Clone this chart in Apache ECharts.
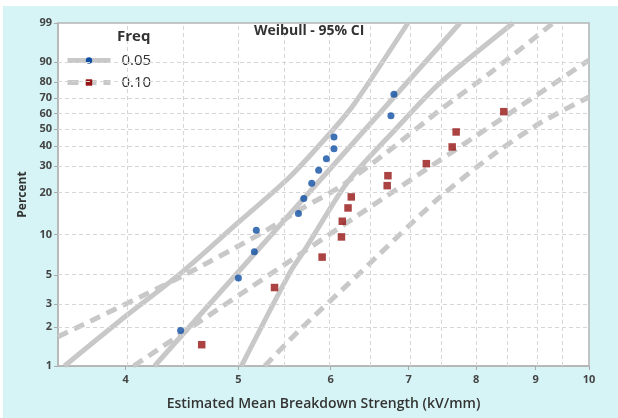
<!DOCTYPE html>
<html><head><meta charset="utf-8">
<script src="https://cdn.jsdelivr.net/npm/echarts@6/dist/echarts.min.js"></script>
<style>
html,body{margin:0;padding:0;background:#fff;}
#bg{position:absolute;left:3px;top:6px;width:615px;height:412px;background:#d6f4f6;}
#chart{position:absolute;left:0;top:0;width:618px;height:418px;}
</style></head><body>
<div id="bg"></div><div id="chart"></div>
<script>
// Axis ticks
const xTicks = [4, 5, 6, 7, 8, 9, 10];
const xGrid = [4, 4.5, 5, 5.5, 6, 6.5, 7, 7.5, 8, 8.5, 9, 9.5];
const yTicks = [1, 2, 3, 5, 10, 20, 30, 40, 50, 60, 70, 80, 90, 99];
const yGrid = [2, 3, 5, 10, 20, 30, 40, 50, 60, 70, 80, 90];
const xRange = [3.5, 10];
const yRange = [1, 99];

// Data points [strength kV/mm, percent]
const pts05 = [[4.46,1.88],[5.00,4.73],[5.16,7.46],[5.18,10.75],[5.63,14.18],[5.69,18.18],[5.78,23.14],[5.86,28.28],[5.95,33.47],[6.04,38.51],[6.04,45.20],[6.76,58.51],[6.80,72.45]];
const pts10 = [[4.65,1.46],[5.37,4.00],[5.90,6.79],[6.13,9.59],[6.14,12.49],[6.21,15.57],[6.25,18.62],[6.71,22.27],[6.72,26.00],[7.25,31.15],[7.63,39.53],[7.69,48.19],[8.45,61.13]];

// Fitted lines and 95% CI bounds [strength, percent]
const fit05 = [[4.236,1],[7.749,99]];
const ciLeft05 = [[3.545,1],[3.966,2.27],[4.466,5.17],[4.993,12.14],[5.534,25.5],[6.027,49.4],[6.295,66.8],[6.991,99]];
const ciRight05 = [[5.030,1],[5.534,5.17],[5.701,7.68],[6.196,23.24],[6.813,49.41],[7.449,79.35],[8.607,99]];
const fit10 = [[4.064,1],[10,90.7]];
const ciLeft10 = [[3.5,1.68],[4.466,4.84],[5.232,10.21],[5.701,15.83],[6.111,21.83],[6.746,37.92],[7.449,62.24],[8.224,84.83],[9.316,99]];
const ciRight10 = [[5.267,1],[5.645,1.90],[6.332,4.99],[7.400,17.74],[8.224,34.35],[9.080,53.80],[10,70.73]];

const tx = x => Math.log(x);
const ty = p => Math.log(-Math.log(1 - p / 100));
const tr = arr => arr.map(d => [tx(d[0]), ty(d[1])]);

const FONT = "'Open Sans', 'DejaVu Sans', sans-serif";
const BLUE = '#0f4fa3', RED = '#961414', GRAY = '#c8c8c8';

const chart = echarts.init(document.getElementById('chart'), null, {renderer: 'canvas'});
const solid = {color: GRAY, width: 5};
const dashed = {color: GRAY, width: 5, type: [11, 7]};
function lineSeries(name, data, style, extra) {
  return Object.assign({
    type: 'line', name: name, data: tr(data), showSymbol: false, symbol: 'none',
    lineStyle: style, smooth: 0.25, z: 2, silent: true
  }, extra || {});
}
const gridLineData = xGrid.map(v => ({xAxis: tx(v)})).concat(yGrid.map(v => ({yAxis: ty(v)})));
chart.setOption({
  animation: false,
  title: [
    {text: 'Weibull - 95% CI', left: 254, top: 24, padding: 0, textStyle: {fontFamily: FONT, fontSize: 14, fontWeight: 'bold', color: '#333'}},
    {text: 'Freq', left: 117, top: 29, padding: 0, textStyle: {fontFamily: FONT, fontSize: 15, fontWeight: 'bold', color: '#333'}}
  ],
  legend: {
    data: ['0.05', '0.10'], orient: 'vertical', left: 65, top: 53, padding: 0,
    itemWidth: 43, itemHeight: 8, itemGap: 7,
    lineStyle: {width: 5},
    textStyle: {fontFamily: FONT, fontSize: 15, color: '#333', padding: [0, 0, 0, 6]}
  },
  grid: {left: 58, right: 29, top: 23, bottom: 52, show: true, backgroundColor: '#fff', borderColor: '#b4b4b4', borderWidth: 1.5,
    containLabel: false, outerBoundsMode: 'none'},
  xAxis: {
    type: 'value', min: tx(xRange[0]), max: tx(xRange[1]),
    name: 'Estimated Mean Breakdown Strength (kV/mm)', nameLocation: 'middle', nameGap: 31,
    nameTextStyle: {fontFamily: FONT, fontSize: 14, fontWeight: 600, color: '#333'},
    axisLine: {show: true, onZero: false, lineStyle: {color: '#b4b4b4', width: 1.5}},
    axisTick: {show: true, length: 4, lineStyle: {color: '#aaa'}, customValues: xTicks.map(tx)},
    axisLabel: {customValues: xTicks.map(tx), margin: 8, fontFamily: FONT, fontSize: 11, fontWeight: 'bold', color: '#444',
      formatter: v => String(Math.round(Math.exp(v) * 10) / 10)},
    splitLine: {show: false}
  },
  yAxis: {
    type: 'value', min: ty(yRange[0]), max: ty(yRange[1]),
    name: 'Percent', nameLocation: 'middle', nameGap: 25,
    nameTextStyle: {fontFamily: FONT, fontSize: 12, fontWeight: 'bold', color: '#333'},
    axisLine: {show: true, onZero: false, lineStyle: {color: '#b4b4b4', width: 1.5}},
    axisTick: {show: true, length: 4, lineStyle: {color: '#aaa'}, customValues: yTicks.map(ty)},
    axisLabel: {customValues: yTicks.map(ty), margin: 6, fontFamily: FONT, fontSize: 11, fontWeight: 'bold', color: '#444',
      formatter: v => String(Math.round((1 - Math.exp(-Math.exp(v))) * 100))},
    splitLine: {show: false}
  },
  series: [
    {type: 'line', name: 'grid', data: [], z: 1, silent: true,
      markLine: {silent: true, symbol: 'none', label: {show: false}, animation: false,
        lineStyle: {color: '#d6d6d6', type: [4, 3], width: 1}, emphasis: {disabled: true}, data: gridLineData}},
    lineSeries('0.05', fit05, solid, {smooth: false, symbol: 'circle', itemStyle: {color: BLUE}}),
    lineSeries('ci05a', ciLeft05, solid),
    lineSeries('ci05b', ciRight05, solid),
    lineSeries('0.10', fit10, dashed, {smooth: false, symbol: 'rect', itemStyle: {color: RED}}),
    lineSeries('ci10a', ciLeft10, dashed),
    lineSeries('ci10b', ciRight10, dashed),
    {type: 'scatter', name: '0.05', data: tr(pts05), symbol: 'circle', symbolSize: 7, itemStyle: {color: BLUE}, z: 5},
    {type: 'scatter', name: '0.10', data: tr(pts10), symbol: 'rect', symbolSize: 7.5, itemStyle: {color: RED}, z: 5}
  ]
});
</script>
</body></html>
